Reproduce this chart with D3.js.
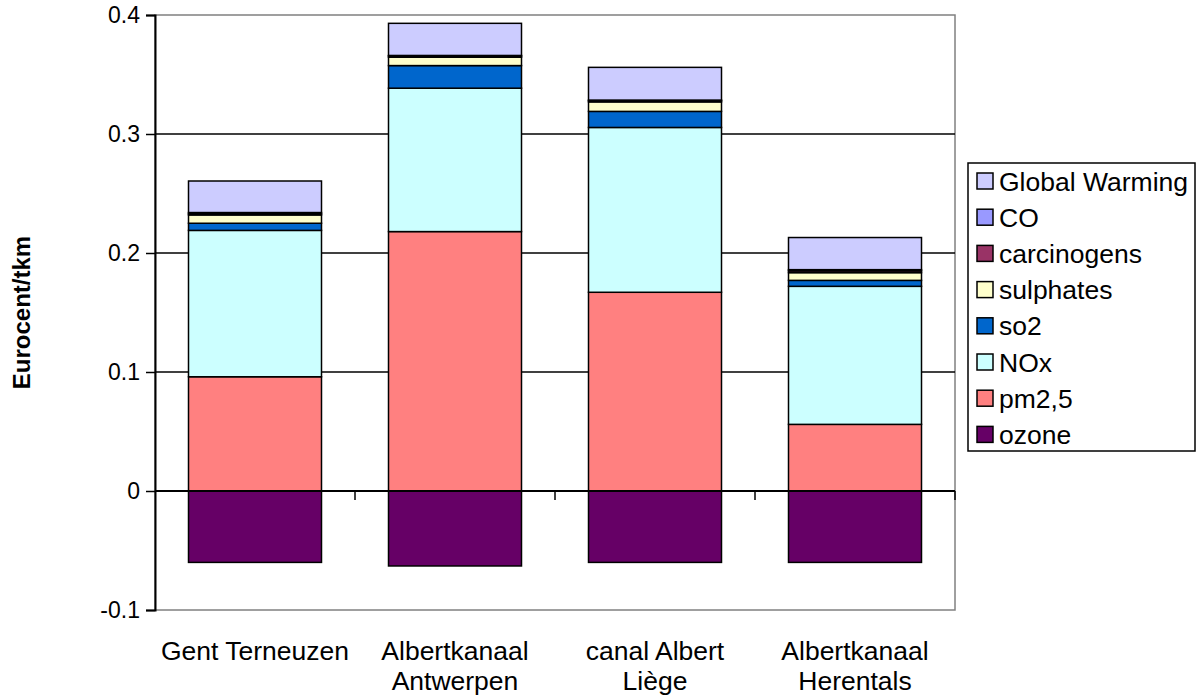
<!DOCTYPE html>
<html>
<head>
<meta charset="utf-8">
<script src="https://cdn.jsdelivr.net/npm/d3@7"></script>
<style>
  html, body { margin: 0; padding: 0; background: #fff; }
  svg { display: block; font-family: "Liberation Sans", Arial, sans-serif; }
</style>
</head>
<body>
<svg id="chart" width="1197" height="697"></svg>
<script>
// ---- data ----
const categories = ["Gent Terneuzen", "Albertkanaal Antwerpen", "canal Albert Liège", "Albertkanaal Herentals"];
const categoryLines = [["Gent Terneuzen"], ["Albertkanaal", "Antwerpen"], ["canal Albert", "Liège"], ["Albertkanaal", "Herentals"]];
const seriesNames = ["ozone", "pm2,5", "NOx", "so2", "sulphates", "carcinogens", "CO", "Global Warming"];
const ozone       = [-0.060, -0.063, -0.060, -0.060];
const pm25        = [0.096, 0.218, 0.167, 0.056];
const nox         = [0.123, 0.1205, 0.1385, 0.116];
const so2         = [0.006, 0.019, 0.0135, 0.005];
const sulphates   = [0.007, 0.007, 0.008, 0.0065];
const carcinogens = [0.001, 0.001, 0.001, 0.0015];
const co          = [0.001, 0.0005, 0.0005, 0.001];
const globalWarming = [0.0265, 0.027, 0.0275, 0.027];
const yTicks = [-0.1, 0, 0.1, 0.2, 0.3, 0.4];
const yTickLabels = ["-0.1", "0", "0.1", "0.2", "0.3", "0.4"];
const colors = ["#660066", "#FF8080", "#CCFFFF", "#0066CC", "#FFFFCC", "#993366", "#9999FF", "#CCCCFF"];
const yTitle = "Eurocent/tkm";

const seriesValues = [ozone, pm25, nox, so2, sulphates, carcinogens, co, globalWarming];
const table = categories.map((c, i) => {
  const row = { category: c };
  seriesNames.forEach((s, k) => row[s] = seriesValues[k][i]);
  return row;
});

// ---- layout ----
const svg = d3.select("#chart");
const plot = { left: 155, right: 955, top: 15, bottom: 610 };

const x = d3.scaleBand().domain(categories).range([plot.left, plot.right])
  .paddingInner(0.335).paddingOuter(0.1675);
const y = d3.scaleLinear().domain([-0.1, 0.4]).range([plot.bottom, plot.top]);
const color = d3.scaleOrdinal().domain(seriesNames).range(colors);

// plot border (gray)
svg.append("rect")
  .attr("x", plot.left).attr("y", plot.top)
  .attr("width", plot.right - plot.left).attr("height", plot.bottom - plot.top)
  .attr("fill", "none").attr("stroke", "#808080").attr("stroke-width", 1.5);

// gridlines
svg.append("g").selectAll("line")
  .data(yTicks.filter(t => t > 0 && t < 0.4))
  .join("line")
  .attr("x1", plot.left).attr("x2", plot.right)
  .attr("y1", d => y(d)).attr("y2", d => y(d))
  .attr("stroke", "#000").attr("stroke-width", 1.3);

// stacked bars
const stack = d3.stack().keys(seriesNames).offset(d3.stackOffsetDiverging);
const layers = stack(table);

svg.append("g").selectAll("g")
  .data(layers)
  .join("g")
  .attr("fill", d => color(d.key))
  .selectAll("rect")
  .data(d => d)
  .join("rect")
  .attr("x", d => x(d.data.category))
  .attr("width", x.bandwidth())
  .attr("y", d => y(Math.max(d[0], d[1])))
  .attr("height", d => Math.abs(y(d[0]) - y(d[1])))
  .attr("stroke", "#000").attr("stroke-width", 1.5);

// y axis
const yAxis = d3.axisLeft(y).tickValues(yTicks).tickSize(9).tickPadding(6)
  .tickFormat((d, i) => yTickLabels[i]);
const gy = svg.append("g").attr("transform", `translate(${plot.left},0)`).call(yAxis);
gy.select(".domain").attr("stroke", "#000").attr("stroke-width", 2);
gy.selectAll(".tick line").attr("stroke", "#000").attr("stroke-width", 1.5);
gy.selectAll(".tick text").attr("font-size", 23).attr("fill", "#000")
  .attr("font-family", "Liberation Sans, Arial, sans-serif");

// x axis at zero with boundary ticks
const gx = svg.append("g");
gx.append("line")
  .attr("x1", plot.left).attr("x2", plot.right)
  .attr("y1", y(0)).attr("y2", y(0))
  .attr("stroke", "#000").attr("stroke-width", 2);
const boundaries = categories.map(c => x(c) + x.bandwidth() + x.step() * x.paddingInner() / 2);
gx.selectAll("line.tk").data(boundaries).join("line").attr("class", "tk")
  .attr("x1", d => d).attr("x2", d => d)
  .attr("y1", y(0)).attr("y2", y(0) + 9)
  .attr("stroke", "#000").attr("stroke-width", 1.5);

// category labels
const labels = svg.append("g").selectAll("text")
  .data(categories)
  .join("text")
  .attr("text-anchor", "middle")
  .attr("font-size", 26.5)
  .attr("fill", "#000");
labels.each(function(d, i) {
  const t = d3.select(this);
  categoryLines[i].forEach((ln, j) => {
    t.append("tspan")
      .attr("x", x(d) + x.bandwidth() / 2)
      .attr("y", 660 + j * 30)
      .text(ln);
  });
});

// y title
svg.append("text")
  .attr("transform", `translate(30,${(plot.top + plot.bottom) / 2}) rotate(-90)`)
  .attr("text-anchor", "middle")
  .attr("font-size", 24).attr("font-weight", "bold")
  .text(yTitle);

// legend
const legend = svg.append("g");
legend.append("rect")
  .attr("x", 968).attr("y", 163).attr("width", 227).attr("height", 288)
  .attr("fill", "#fff").attr("stroke", "#000").attr("stroke-width", 1.5);
const legendItems = seriesNames.slice().reverse();
const li = legend.selectAll("g.item").data(legendItems).join("g").attr("class", "item")
  .attr("transform", (d, i) => `translate(0,${181 + i * 36.2})`);
li.append("rect")
  .attr("x", 977).attr("y", -8).attr("width", 16).attr("height", 16)
  .attr("fill", d => color(d)).attr("stroke", "#000").attr("stroke-width", 1.5);
li.append("text")
  .attr("x", 999).attr("y", 9.5)
  .attr("font-size", 26.5).attr("fill", "#000")
  .text(d => d);
</script>
</body>
</html>
